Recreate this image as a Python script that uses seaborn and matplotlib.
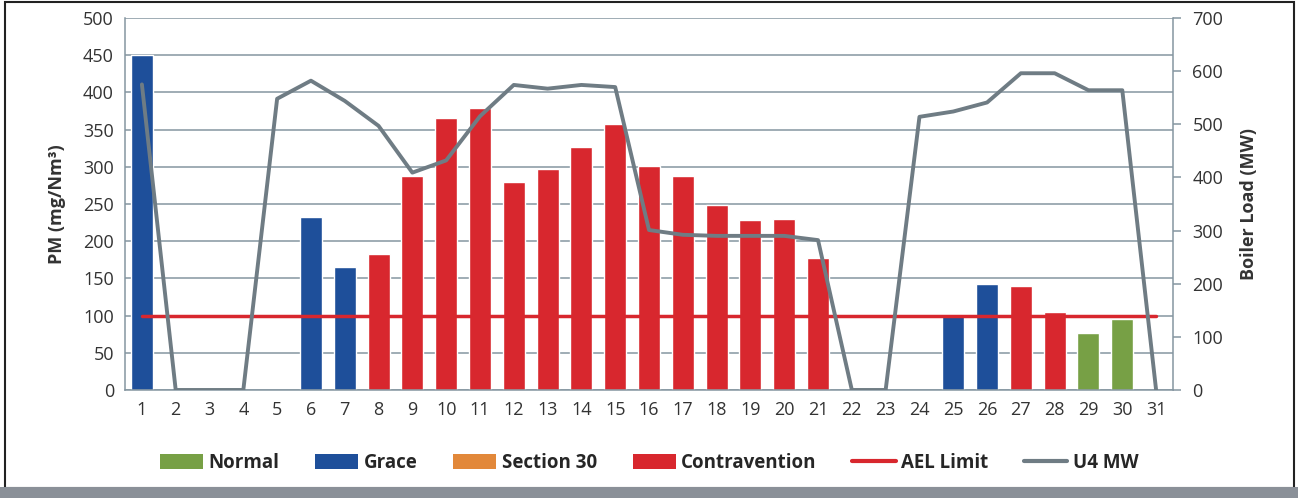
import numpy as np
import pandas as pd
import matplotlib
matplotlib.use("Agg")
import matplotlib.pyplot as plt
import seaborn as sns
from matplotlib.patches import Patch, Rectangle
from matplotlib.lines import Line2D

# --- datos ---
days = [str(d) for d in range(1, 32)]
pm = [450, None, None, None, None, 233, 165, 183, 287, 365, 379, 280, 297, 326, 357,
      301, 287, 249, 228, 230, 177, None, None, None, 101, 142, 140, 105, 77, 96, None]
status = ["Grace", None, None, None, None, "Grace", "Grace", "Contravention", "Contravention",
          "Contravention", "Contravention", "Contravention", "Contravention", "Contravention",
          "Contravention", "Contravention", "Contravention", "Contravention", "Contravention",
          "Contravention", "Contravention", None, None, None, "Grace", "Grace",
          "Contravention", "Contravention", "Normal", "Normal", None]
u4_mw = [575, 0, 0, 0, 548, 582, 544, 497, 409, 432, 515, 574, 567, 574, 570,
         301, 292, 290, 290, 290, 282, 0, 0, 514, 524, 541, 596, 596, 564, 564, 0]
ael_limit = 100

colores = {"Normal": "#77a045", "Grace": "#1e4f9a", "Section 30": "#e2883a",
           "Contravention": "#d8272e"}
gris_linea = "#6f7c84"
texto = "#333333"

df = pd.DataFrame({"day": days, "pm": pm, "status": status}).dropna()

sns.set_style("white")
plt.rcParams["font.family"] = ["Open Sans", "DejaVu Sans"]

fig = plt.figure(figsize=(12.98, 4.98), dpi=100)
ax = fig.add_axes([0.0963, 0.2169, 0.8074, 0.747])

sns.barplot(data=df, x="day", y="pm", hue="status", order=days, dodge=False,
            palette=colores, width=0.65, saturation=1, ax=ax, legend=False)

ax.set_xlim(-0.5, 30.5)
ax.set_ylim(0, 500)
ax.set_yticks(np.arange(0, 501, 50))
ax.grid(axis="y", color="#8596a0", linewidth=1.1)
ax.set_axisbelow(True)
ax.set_xlabel("")
ax.set_ylabel("PM (mg/Nm³)", fontsize=13, fontweight="bold", color=texto, labelpad=12)
ax.tick_params(axis="both", labelsize=13, colors=texto, length=0, pad=8)
for s in ["top", "right"]:
    ax.spines[s].set_visible(False)
for s in ["left", "bottom"]:
    ax.spines[s].set_color("#8596a0")
    ax.spines[s].set_linewidth(1.1)

# AEL limit
ax.plot([0, 30], [ael_limit, ael_limit], color="#d8272e", linewidth=2.5, zorder=4)

# boiler load
ax2 = ax.twinx()
sns.lineplot(x=np.arange(31), y=u4_mw, color=gris_linea, linewidth=2.8, ax=ax2, zorder=5)
ax2.set_ylim(0, 700)
ax2.set_yticks(np.arange(0, 701, 100))
ax2.set_ylabel("Boiler Load (MW)", fontsize=13, fontweight="bold", color=texto, labelpad=12)
ax2.tick_params(axis="y", labelsize=13, colors=texto, length=6, width=1.1,
                direction="out", color="#8596a0", pad=8)
for s in ["top", "left", "bottom"]:
    ax2.spines[s].set_visible(False)
ax2.spines["right"].set_color("#8596a0")
ax2.spines["right"].set_linewidth(1.1)
ax2.set_xlim(-0.5, 30.5)

# leyenda
handles = [Patch(facecolor=colores[k], edgecolor="none") for k in
           ["Normal", "Grace", "Section 30", "Contravention"]]
handles += [Line2D([], [], color="#d8272e", linewidth=3),
            Line2D([], [], color=gris_linea, linewidth=3)]
labels = ["Normal", "Grace", "Section 30", "Contravention", "AEL Limit", "U4 MW"]
fig.legend(handles, labels, loc="center", bbox_to_anchor=(0.5, 0.07), ncol=6,
           frameon=False, handlelength=2.3, handleheight=0.8,
           columnspacing=1.9, handletextpad=0.3,
           prop={"weight": "bold", "size": 13.5})

# marco
fig.patches.append(Rectangle((0.004, 0.02), 0.993, 0.975, transform=fig.transFigure,
                             fill=False, edgecolor="#222222", linewidth=1.5))
fig.patches.append(Rectangle((0.0, 0.0), 1.0, 0.022, transform=fig.transFigure,
                             facecolor="#8a9098", edgecolor="none"))

fig.savefig("out.png", dpi=100)
